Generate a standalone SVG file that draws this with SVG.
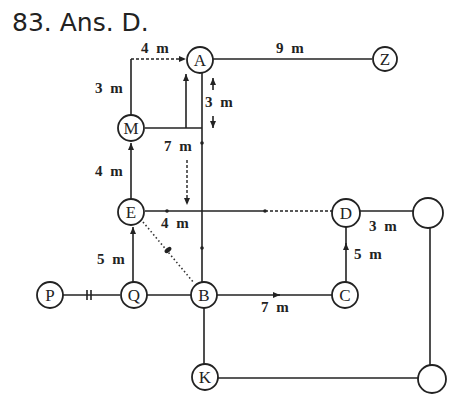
<svg xmlns="http://www.w3.org/2000/svg" width="450" height="397" viewBox="0 0 450 397">
<style>
.ln{stroke:#222;stroke-width:1.6;fill:none}
.dsh{stroke:#222;stroke-width:1.4;fill:none;stroke-dasharray:3 2}
.dot{stroke:#333;stroke-width:1.6;fill:none;stroke-dasharray:1.5 2.5}
.nd{fill:#fff;stroke:#222;stroke-width:1.8}
.nt{font-family:"Liberation Serif",serif;font-size:17px;fill:#222;text-anchor:middle}
.lb{font-family:"Liberation Serif",serif;font-size:15px;font-weight:bold;fill:#222;word-spacing:4px}
.ttl{font-family:"DejaVu Sans",sans-serif;font-size:25px;fill:#222}
</style>
<defs>
<marker id="ah" markerWidth="8" markerHeight="8" refX="7" refY="4" orient="auto" markerUnits="userSpaceOnUse">
<path d="M0,1 L7,4 L0,7 Z" fill="#222"/>
</marker>
</defs>
<rect width="450" height="397" fill="#fff"/>
<text class="ttl" x="12" y="31">83. Ans. D.</text>

<g id="connectors">
<line class="ln" x1="213" y1="59" x2="372" y2="59"/>
<line class="ln" x1="131" y1="115" x2="131" y2="59"/>
<line class="dsh" x1="131" y1="59" x2="186" y2="59" marker-end="url(#ah)"/>
<line class="ln" x1="145" y1="128" x2="202" y2="128"/>
<line class="ln" x1="186" y1="128" x2="186" y2="74" marker-end="url(#ah)"/>
<line class="ln" x1="202" y1="72" x2="202" y2="282"/>
<line class="ln" x1="213" y1="90" x2="213" y2="78" marker-end="url(#ah)"/>
<line class="ln" x1="213" y1="116" x2="213" y2="128" marker-end="url(#ah)"/>
<line class="dsh" x1="187" y1="160" x2="187" y2="205" marker-end="url(#ah)"/>
<line class="ln" x1="131" y1="199" x2="131" y2="143" marker-end="url(#ah)"/>
<line class="ln" x1="145" y1="211" x2="265" y2="211"/>
<line class="dsh" x1="265" y1="211" x2="332" y2="211"/>
<line class="ln" x1="360" y1="211" x2="413" y2="211"/>
<line class="ln" x1="346" y1="282" x2="346" y2="243" marker-end="url(#ah)"/>
<line class="ln" x1="346" y1="246" x2="346" y2="227"/>
<line class="ln" x1="430" y1="228" x2="430" y2="365"/>
<line class="ln" x1="218" y1="378" x2="418" y2="378"/>
<line class="ln" x1="204" y1="308" x2="204" y2="364"/>
<line class="ln" x1="217" y1="295" x2="280" y2="295" marker-end="url(#ah)"/>
<line class="ln" x1="278" y1="295" x2="332" y2="295"/>
<line class="ln" x1="147" y1="295" x2="191" y2="295"/>
<line class="ln" x1="63" y1="295" x2="120" y2="295"/>
<line class="ln" x1="87" y1="290" x2="87" y2="300"/>
<line class="ln" x1="91" y1="290" x2="91" y2="300"/>
<line class="ln" x1="133" y1="282" x2="133" y2="227" marker-end="url(#ah)"/>
<line class="dot" x1="143" y1="222" x2="194" y2="283"/>
<ellipse cx="168" cy="250" rx="2.2" ry="4" transform="rotate(50 168 250)" fill="#222"/>
<circle cx="202" cy="143" r="1.8" fill="#222"/>
<circle cx="202" cy="248" r="1.8" fill="#222"/>
<circle cx="167" cy="211" r="1.8" fill="#222"/>
<circle cx="265" cy="211" r="1.8" fill="#222"/>
</g>

<g id="labels">
<text class="lb" x="141" y="53">4 m</text>
<text class="lb" x="276" y="53">9 m</text>
<text class="lb" x="95" y="93">3 m</text>
<text class="lb" x="205" y="107">3 m</text>
<text class="lb" x="164" y="151">7 m</text>
<text class="lb" x="95" y="176">4 m</text>
<text class="lb" x="161" y="228">4 m</text>
<text class="lb" x="369" y="231">3 m</text>
<text class="lb" x="354" y="259">5 m</text>
<text class="lb" x="97" y="264">5 m</text>
<text class="lb" x="261" y="312">7 m</text>
</g>

<g id="node-A"><circle class="nd" cx="200" cy="60" r="13"/><text class="nt" x="200" y="66">A</text></g>
<g id="node-Z"><circle class="nd" cx="385" cy="59" r="12"/><text class="nt" x="385" y="65">Z</text></g>
<g id="node-M"><circle class="nd" cx="131" cy="128" r="13"/><text class="nt" x="131" y="134">M</text></g>
<g id="node-E"><circle class="nd" cx="131" cy="212" r="13"/><text class="nt" x="131" y="218">E</text></g>
<g id="node-D"><circle class="nd" cx="346" cy="213" r="14"/><text class="nt" x="346" y="219">D</text></g>
<g id="node-R1"><circle class="nd" cx="428" cy="213" r="15"/></g>
<g id="node-P"><circle class="nd" cx="50" cy="295" r="13"/><text class="nt" x="50" y="301">P</text></g>
<g id="node-Q"><circle class="nd" cx="134" cy="295" r="13"/><text class="nt" x="134" y="301">Q</text></g>
<g id="node-B"><circle class="nd" cx="204" cy="295" r="13"/><text class="nt" x="204" y="301">B</text></g>
<g id="node-C"><circle class="nd" cx="345" cy="295" r="13"/><text class="nt" x="345" y="301">C</text></g>
<g id="node-K"><circle class="nd" cx="205" cy="377" r="13"/><text class="nt" x="205" y="383">K</text></g>
<g id="node-R2"><circle class="nd" cx="432" cy="379" r="14"/></g>
</svg>
